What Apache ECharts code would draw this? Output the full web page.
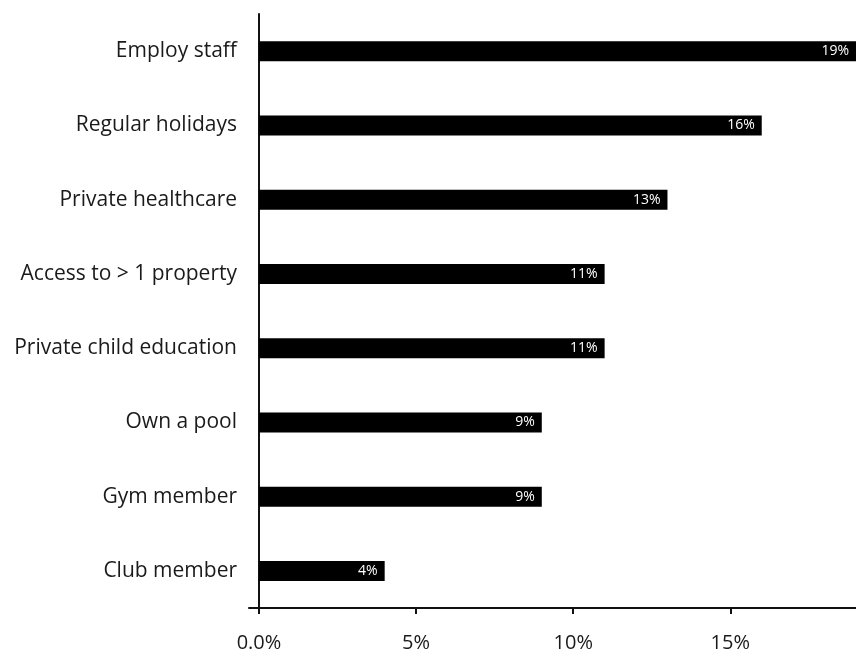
<!DOCTYPE html>
<html>
<head>
<meta charset="utf-8">
<script src="https://cdn.jsdelivr.net/npm/echarts@6/dist/echarts.min.js"></script>
<style>
  html, body { margin: 0; padding: 0; background: #fff; }
  #chart { width: 856px; height: 657px; }
</style>
</head>
<body>
<div id="chart"></div>
<script>
// Perks listed top to bottom, with the share of respondents (%)
const categories = [
  'Employ staff',
  'Regular holidays',
  'Private healthcare',
  'Access to > 1 property',
  'Private child education',
  'Own a pool',
  'Gym member',
  'Club member'
];
const shares = [19, 16, 13, 11, 11, 9, 9, 4];
const tickValues = [0, 5, 10, 15];

const FONT = '"Open Sans", "Noto Sans", sans-serif';
const chart = echarts.init(document.getElementById('chart'), null, { renderer: 'canvas' });

chart.setOption({
  animation: false,
  backgroundColor: '#ffffff',
  grid: { left: 249, right: 0, top: 14, bottom: 49, containLabel: false },
  xAxis: {
    type: 'value',
    min: -0.318,
    max: 19,
    splitLine: { show: false },
    axisLine: { show: true, lineStyle: { color: '#111', width: 2 } },
    axisTick: {
      show: true,
      customValues: tickValues,
      length: 6,
      lineStyle: { color: '#111', width: 2 }
    },
    axisLabel: {
      customValues: tickValues,
      margin: 25,
      color: '#1a1a1a',
      fontFamily: FONT,
      fontSize: 20,
      formatter: v => (v === 0 ? '0.0%' : v + '%')
    }
  },
  yAxis: {
    type: 'category',
    inverse: true,
    data: categories,
    axisLine: { show: true, onZero: true, lineStyle: { color: '#111', width: 2 } },
    axisTick: { show: false },
    axisLabel: {
      margin: 12,
      color: '#1a1a1a',
      fontFamily: FONT,
      fontSize: 21
    }
  },
  series: [{
    type: 'bar',
    data: shares,
    barWidth: 20,
    itemStyle: { color: '#000000' },
    label: {
      show: true,
      position: 'insideRight',
      distance: 7,
      color: '#ffffff',
      fontFamily: FONT,
      fontSize: 14,
      formatter: p => p.value + '%'
    }
  }]
});
</script>
</body>
</html>
